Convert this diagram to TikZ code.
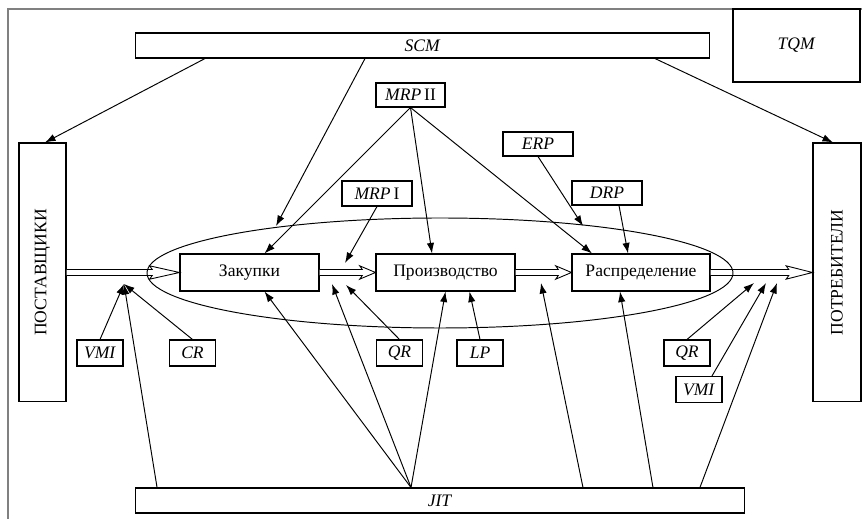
\documentclass[tikz,border=0pt]{standalone}
\usepackage{fontspec}
\setmainfont{Liberation Serif}
\usepackage{tikz}
\usetikzlibrary{arrows.meta}
\tikzset{box/.style = {draw, line width=0.6pt, fill=white, inner sep=0pt,
                       font=\fontsize{10}{12}\selectfont},
         tag/.style = {box, minimum width=0.92cm, minimum height=0.52cm},
         link/.style = {line width=0.55pt, -{Latex[length=6pt, width=4.2pt]}}}
% hollow double arrow from the east side of #2 to the west side of #3, head length #1
\newcommand\flowarrow[3][9pt]{%
  \draw [line width=0.5pt, fill=white]
        ([yshift=1.7pt]#2.east) -- ([xshift=-#1+1.5pt, yshift=1.7pt]#3.west)
        -- ([xshift=-#1, yshift=3.8pt]#3.west) -- (#3.west)
        -- ([xshift=-#1, yshift=-3.8pt]#3.west)
        -- ([xshift=-#1+1.5pt, yshift=-1.7pt]#3.west) -- ([yshift=-1.7pt]#2.east);}

\begin{document}
\begin{tikzpicture}[x=0.02cm, y=-0.02cm]
      \useasboundingbox (0, 0) rectangle (862, 519);
      \draw [gray, line width=0.8pt] (8, 519) -- (8, 9) -- (862, 9);

      % top row
      \node [box, minimum width=11.5cm, minimum height=0.5cm] (scm) at (422.5, 45.5) {\textit{SCM}};
      \node [box, minimum width=2.54cm, minimum height=1.46cm] (tqm) at (796.5, 45.5) {\textit{TQM}};
      \node [box, minimum width=1.38cm, minimum height=0.48cm] (mrpii) at (410.5, 95) {\textit{MRP}\,II};
      \node [box, minimum width=1.4cm, minimum height=0.5cm] (mrpi) at (377, 193.5) {\textit{MRP}\,I};
      \node [box, minimum width=1.4cm, minimum height=0.48cm] (erp) at (538, 144) {\textit{ERP}};
      \node [box, minimum width=1.4cm, minimum height=0.48cm] (drp) at (607, 193) {\textit{DRP}};

      % chain
      \node [box, minimum width=0.94cm, minimum height=5.18cm] (post) at (42.5, 272.5)
            {\rotatebox{90}{ПОСТАВЩИКИ}};
      \node [box, minimum width=0.96cm, minimum height=5.18cm] (potr) at (837, 272.5)
            {\rotatebox{90}{ПОТРЕБИТЕЛИ}};
      \node [box, minimum width=2.78cm, minimum height=0.74cm] (zak) at (249.5, 272.5) {Закупки};
      \node [box, minimum width=2.78cm, minimum height=0.74cm] (proizv) at (445.5, 272.5) {Производство};
      \node [box, minimum width=2.76cm, minimum height=0.74cm] (raspr) at (641, 272.5) {Распределение};
      \flowarrow[17pt]{post}{zak}
      \flowarrow{zak}{proizv}
      \flowarrow{proizv}{raspr}
      \flowarrow[15pt]{raspr}{potr}
      \draw [line width=0.55pt] (440, 273) ellipse [x radius=293, y radius=55];

      % bottom row
      \node [tag] (vmia) at (100, 353) {\textit{VMI}};
      \node [tag] (cr) at (192.5, 353) {\textit{CR}};
      \node [tag] (qra) at (399.5, 353) {\textit{QR}};
      \node [tag] (lp) at (480, 353) {\textit{LP}};
      \node [tag] (qrb) at (687, 353) {\textit{QR}};
      \node [tag] (vmib) at (699, 389.5) {\textit{VMI}};
      \node [box, minimum width=12.2cm, minimum height=0.5cm] (jit) at (440, 500.5) {\textit{JIT}};

      \coordinate (ellA) at (276, 226);
      \coordinate (ellB) at (583, 226);
      \coordinate (inA) at (124, 284);
      \coordinate (midA) at (345, 263);
      \coordinate (midB) at (346, 285);
      \coordinate (midC) at (332, 284);
      \coordinate (midD) at (541, 283);
      \coordinate (outA) at (754, 283);
      \coordinate (outB) at (766, 283);
      \coordinate (outC) at (777, 283);
      \coordinate (jitA) at ([xshift=-0.58cm]jit.north);

      \draw [link] ([xshift=-4.35cm]scm.south) -- ([xshift=0.05cm]post.north);
      \draw [link] ([xshift=-1.15cm]scm.south) -- (ellA);
      \draw [link] ([xshift=4.65cm]scm.south) -- ([xshift=-0.08cm]potr.north);
      \draw [link] (mrpii.south) -- ([xshift=0.3cm]zak.north);
      \draw [link] (mrpii.south) -- ([xshift=-0.27cm]proizv.north);
      \draw [link] (mrpii.south) -- ([xshift=-0.98cm]raspr.north);
      \draw [link] (mrpi.south) -- (midA);
      \draw [link] (erp.south) -- (ellB);
      \draw [link] ([xshift=0.24cm]drp.south) -- ([xshift=-0.26cm]raspr.north);

      \draw [link] (vmia.north) -- (inA);
      \draw [link] (cr.north) -- (inA);
      \draw [link] ([xshift=-5.66cm]jit.north) -- (inA);
      \draw [link] (qra.north) -- (midB);
      \draw [link] (jitA) -- ([xshift=0.3cm]zak.south);
      \draw [link] (jitA) -- (midC);
      \draw [link] (jitA) -- (proizv.south);
      \draw [link] (lp.north) -- ([xshift=0.48cm]proizv.south);
      \draw [link] ([xshift=2.86cm]jit.north) -- (midD);
      \draw [link] ([xshift=4.26cm]jit.north) -- ([xshift=-0.42cm]raspr.south);
      \draw [link] ([xshift=5.2cm]jit.north) -- (outC);
      \draw [link] (qrb.north) -- (outA);
      \draw [link] ([xshift=0.26cm]vmib.north) -- (outB);
    \end{tikzpicture}
\end{document}
